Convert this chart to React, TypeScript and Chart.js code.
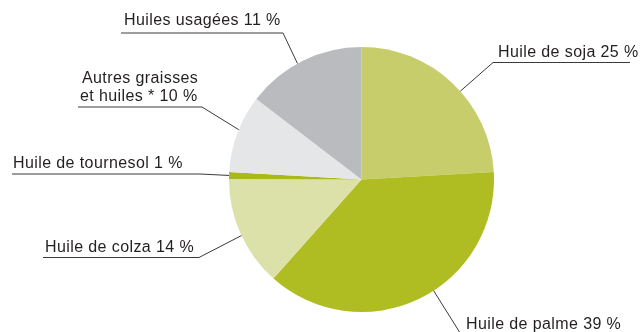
import React, { useEffect, useRef } from "react";
import { Chart, registerables } from "chart.js";

Chart.register(...registerables);

// Categories (clockwise from 12 o'clock)
const categories = [
  "Huile de soja",
  "Huile de palme",
  "Huile de colza",
  "Huile de tournesol",
  "Autres graisses et huiles *",
  "Huiles usagées",
];

// Slice shares as drawn in the picture (percent of the circle)
const sliceShares = [24.1, 37.5, 13.5, 0.85, 9.5, 14.6];

// Printed percentages in the labels
const labelPercents = [25, 39, 14, 1, 10, 11];

const sliceColors = ["#c7cd6b", "#afbd22", "#dce0a9", "#a9b91d", "#e5e6e8", "#babbbf"];

// Label layout: text lines, text origin, the leader path (from the label side) and
// where on the slice (fraction of its angle) the leader meets the pie.
type LabelLayout = {
  lines: string[];
  x: number[];
  y: number[];
  path: [number, number][];
  frac: number;
};

const labelLayout: LabelLayout[] = [
  { lines: [], x: [498], y: [57], path: [[630, 62.5], [493, 62.5]], frac: 0.556 },
  { lines: [], x: [466], y: [329], path: [[640, 336], [462, 336]], frac: 0.447 },
  { lines: [], x: [45], y: [251.5], path: [[43, 257.5], [199, 257.5]], frac: 0.48 },
  { lines: [], x: [13], y: [168], path: [[12, 174], [200, 174]], frac: 0.5 },
  { lines: [], x: [82, 80], y: [83, 101], path: [[78, 107], [202, 107]], frac: 0.55 },
  { lines: [], x: [124], y: [25], path: [[121, 33], [283, 33]], frac: 0.45 },
];

function labelLines(i: number): string[] {
  const p = `${labelPercents[i]} %`;
  if (i === 4) return ["Autres graisses", `et huiles * ${p}`];
  return [`${categories[i]} ${p}`];
}

const leaderPlugin = {
  id: "leaders",
  afterDraw(chart: any) {
    const ctx = chart.ctx as CanvasRenderingContext2D;
    const meta = chart.getDatasetMeta(0);
    ctx.save();
    meta.data.forEach((arc: any, i: number) => {
      const L = labelLayout[i];
      const { x, y, startAngle, endAngle, outerRadius } = arc.getProps(
        ["x", "y", "startAngle", "endAngle", "outerRadius"],
        true
      );
      const a = startAngle + (endAngle - startAngle) * L.frac;
      const ax = x + Math.cos(a) * outerRadius;
      const ay = y + Math.sin(a) * outerRadius;
      ctx.strokeStyle = "#3a3a3a";
      ctx.lineWidth = 1;
      ctx.beginPath();
      L.path.forEach(([px, py], k) => (k === 0 ? ctx.moveTo(px, py) : ctx.lineTo(px, py)));
      ctx.lineTo(ax, ay);
      ctx.stroke();

      ctx.fillStyle = "#231f20";
      ctx.font = '16px "Liberation Sans", Arial, sans-serif';
      (ctx as any).letterSpacing = "0.4px";
      ctx.textBaseline = "alphabetic";
      ctx.textAlign = "left";
      labelLines(i).forEach((t, k) => ctx.fillText(t, L.x[k], L.y[k]));
    });
    ctx.restore();
  },
};

export default function App() {
  const ref = useRef<HTMLCanvasElement>(null);
  useEffect(() => {
    if (!ref.current) return;
    const chart = new Chart(ref.current, {
      type: "pie",
      data: {
        labels: categories,
        datasets: [
          {
            data: sliceShares,
            backgroundColor: sliceColors,
            borderWidth: 0,
            hoverOffset: 0,
          },
        ],
      },
      options: {
        responsive: false,
        animation: false,
        layout: { padding: { left: 229, right: 150, top: 47, bottom: 20 } },
        plugins: {
          legend: { display: false },
          tooltip: { enabled: false },
        },
      },
      plugins: [leaderPlugin],
    });
    return () => chart.destroy();
  }, []);
  return (
    <div style={{ position: "absolute", left: 0, top: 0, width: 644, height: 332, background: "#fff" }}>
      <canvas ref={ref} width={644} height={332} style={{ display: "block" }} />
    </div>
  );
}
